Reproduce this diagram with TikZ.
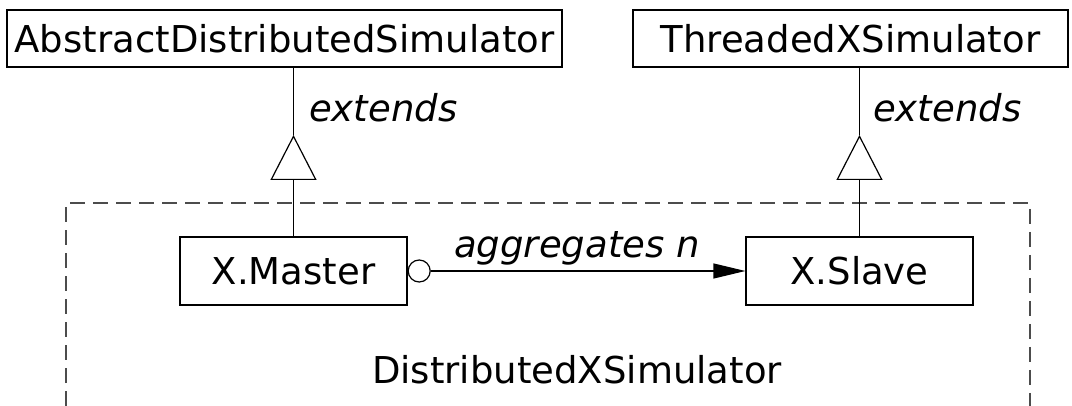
\documentclass[tikz,border=0pt]{standalone}
\usepackage{fontspec}
\setmainfont{DejaVu Sans}
\usetikzlibrary{arrows.meta}
\begin{document}
\begin{tikzpicture}[x=1pt,y=-1pt,
  every node/.style={font=\fontsize{37}{44}\selectfont},
  cls/.style={draw, line width=1.2pt, rectangle, inner sep=0pt, minimum height=57pt},
  inner/.style={draw, line width=1.2pt, rectangle, inner sep=0pt, minimum width=227pt, minimum height=68pt},
  lbl/.style={inner sep=0pt, font=\fontsize{37}{44}\selectfont\itshape},
  conn/.style={line width=1.2pt},
  ext/.style={conn, -{Triangle[open, length=45pt, width=46pt, line width=1.2pt]}},
  agg/.style={conn, -{Triangle[length=32pt, width=15pt]}},
  pkg/.style={line width=1.2pt, black!70, dash pattern=on 15pt off 8pt}]
\useasboundingbox (0,0) rectangle (1072,406);
% package frame (open at the bottom, cut by the edge)
\draw[pkg] (66,406) -- (66,203) -- (1030,203) -- (1030,406);
% classes
\node[cls, minimum width=555pt] (ads) at (284.5,38.5) {AbstractDistributedSimulator};
\node[cls, minimum width=435pt] (txs) at (850.5,38.5) {ThreadedXSimulator};
\node[inner] (master) at (293.5,271) {X.Master};
\node[inner] (slave) at (859.5,271) {X.Slave};
% generalisation arrows
\coordinate (apexL) at (293.5,135);
\coordinate (apexR) at (859.5,135);
\draw[ext] (master.north) -- (apexL);
\draw[conn] (apexL) -- (ads.south -| apexL);
\draw[ext] (slave.north) -- (apexR);
\draw[conn] (apexR) -- (txs.south -| apexR);
\node[lbl, anchor=base west] (extL) at (309,122) {extends};
\node[lbl, anchor=base west] (extR) at (873,122) {extends};
% aggregation
\node[circle, draw, line width=1.2pt, minimum size=22pt, inner sep=0pt, anchor=west] (dot) at (master.east) {};
\draw[agg] (dot) -- (slave);
\node[lbl, anchor=base] (aggl) at (577,258) {aggregates n};
% package name
\node[inner sep=0pt, anchor=base] (pkgname) at (577,384) {DistributedXSimulator};
\end{tikzpicture}
\end{document}
